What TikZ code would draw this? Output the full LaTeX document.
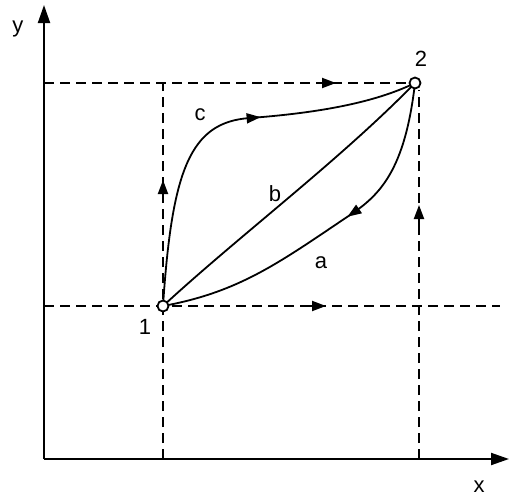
\documentclass[tikz,border=0pt]{standalone}
\usepackage{fontspec}
\setmainfont{Liberation Sans}
\usetikzlibrary{arrows.meta,decorations.markings}
\begin{document}
\begin{tikzpicture}[x=1pt,y=-1pt,
  axis/.style={line width=2pt,-{Triangle[length=18pt,width=12pt]}},
  dashline/.style={line width=2pt,dash pattern=on 10pt off 6pt},
  curve/.style={line width=1.8pt},
  midarrow/.style={postaction={decorate},decoration={markings,mark=at position #1 with {\arrow{Triangle[length=14pt,width=10pt]}}}},
  tipline/.style={line width=2pt,-{Triangle[length=14pt,width=10pt]}},
  lbl/.style={font=\fontsize{22}{22}\selectfont,inner sep=1pt},
  pt/.style={circle,draw,line width=1.8pt,fill=white,inner sep=0pt,minimum size=11pt}]
\useasboundingbox (0,0) rectangle (512,499);
\coordinate (O) at (44,459);
\coordinate (Ytop) at (44,5);
\coordinate (Xend) at (509,459);
\coordinate (P1c) at (163,306);
\coordinate (P2c) at (415,83);
\coordinate (Ly) at (44,83);
\coordinate (Bx1) at (163,459);
\coordinate (T1) at (163,83);
\coordinate (L1) at (44,306);
\coordinate (R1) at (500,306);
\coordinate (V2t) at (419,90);
\coordinate (V2b) at (419,459);
% dashed lines
\draw[dashline] (Ly) -- (P2c);
\draw[dashline] (Bx1) -- (T1);
\draw[dashline] (L1) -- (R1);
\draw[dashline] (V2b) -- (V2t);
% arrows on dashed
\draw[tipline] (318,83) -- (336,83);
\draw[tipline] (163,200) -- (163,180);
\draw[tipline] (308,306) -- (326,306);
\draw[tipline] (419,225) -- (419,205);
% axes
\draw[axis] (O) -- (Ytop);
\draw[axis] (O) -- (Xend);
% curves
\draw[curve,midarrow=0.6] (P1c) .. controls (172,170) and (190,122) .. (250,118) .. controls (330,112) and (380,100) .. (P2c);
\draw[curve] (P1c) .. controls (240,235) and (340,160) .. (P2c);
\draw[curve,midarrow=0.43] (P2c) .. controls (405,170) and (380,195) .. (350,215) .. controls (280,262) and (240,292) .. (P1c);
% points
\node[pt] (p1) at (P1c) {};
\node[pt] (p2) at (P2c) {};
% labels
\node[lbl] (ty) at (18,29) {y};
\node[lbl] (tx) at (479,487) {x};
\node[lbl] (t1) at (145,327) {1};
\node[lbl] (t2) at (421,59) {2};
\node[lbl] (tc) at (200,115) {c};
\node[lbl] (tb) at (275,194) {b};
\node[lbl] (ta) at (321,263) {a};
\end{tikzpicture}
\end{document}
